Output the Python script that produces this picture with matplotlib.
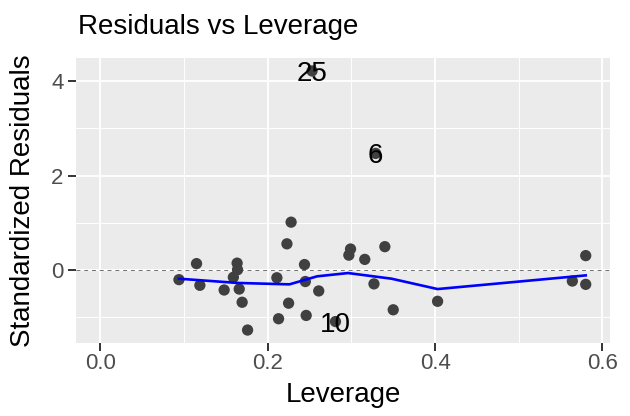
import numpy as np
import matplotlib
matplotlib.use("Agg")
import matplotlib.pyplot as plt

# leverage / standardized residuals of the fitted model (32 observations)
leverage = [0.094, 0.115, 0.119, 0.148, 0.1635, 0.164, 0.159, 0.166,
            0.1695, 0.176, 0.211, 0.228, 0.223, 0.225, 0.213, 0.244,
            0.245, 0.246, 0.261, 0.281, 0.299, 0.297, 0.316, 0.340,
            0.327, 0.350, 0.253, 0.329, 0.403, 0.564, 0.580, 0.580]
std_resid = [-0.21, 0.13, -0.33, -0.43, 0.14, 0.00, -0.16, -0.41,
             -0.69, -1.28, -0.17, 1.01, 0.55, -0.71, -1.04, 0.11,
             -0.25, -0.97, -0.45, -1.10, 0.44, 0.31, 0.22, 0.49,
             -0.30, -0.85, 4.22, 2.47, -0.67, -0.24, 0.30, -0.31]

# observations flagged with their row number
label_names = ["25", "6", "10"]
label_lev = [0.253, 0.329, 0.281]
label_res = [4.22, 2.47, -1.10]

# loess smooth through the points
smooth_lev = [0.094, 0.164, 0.226, 0.259, 0.296, 0.348, 0.403, 0.580]
smooth_res = [-0.19, -0.28, -0.31, -0.14, -0.07, -0.19, -0.41, -0.12]

x_major = [0.0, 0.2, 0.4, 0.6]
x_minor = [0.1, 0.3, 0.5]
y_major = [0, 2, 4]
y_minor = [-1, 1, 3]

plt.rcParams['font.family'] = ['Liberation Sans', 'DejaVu Sans']

fig = plt.figure(figsize=(6.3, 4.16), dpi=100)
ax = fig.add_axes([76 / 630, 1 - 343 / 416, 534 / 630, 285 / 416])
ax.set_facecolor('#EBEBEB')
for s in ax.spines.values():
    s.set_visible(False)

# limits with 5% expansion, x anchored at zero
x_lo, x_hi = 0.0, max(leverage)
y_lo, y_hi = min(std_resid), max(std_resid)
xp = 0.05 * (x_hi - x_lo)
yp = 0.05 * (y_hi - y_lo)
ax.set_xlim(x_lo - xp, x_hi + xp)
ax.set_ylim(y_lo - yp, y_hi + yp)

ax.set_xticks(x_major)
ax.set_xticks(x_minor, minor=True)
ax.set_yticks(y_major)
ax.set_yticks(y_minor, minor=True)
ax.set_xticklabels(["0.0", "0.2", "0.4", "0.6"])
ax.set_yticklabels(["0", "2", "4"])

ax.grid(which='major', color='white', linewidth=1.3)
ax.grid(which='minor', color='white', linewidth=0.7)
ax.set_axisbelow(True)

ax.tick_params(which='major', length=5.5, width=1.4, color='#333333',
               labelsize=16, labelcolor='#4D4D4D')
ax.tick_params(axis='x', which='major', pad=2)
ax.tick_params(axis='y', which='major', pad=3.5)
ax.tick_params(which='minor', length=0)

ax.axhline(0, color='#707070', linewidth=0.7, linestyle=(0, (4, 4)), zorder=2)

ax.scatter(leverage, std_resid, s=66, color='#404040', edgecolors='none', zorder=3)
ax.plot(smooth_lev, smooth_res, color='blue', linewidth=1.9, zorder=4)

for name, lx, ly in zip(label_names, label_lev, label_res):
    ax.text(lx, ly, name, fontsize=20, color='black', ha='center',
            va='center_baseline', zorder=5)

fig.text(78 / 630, 1 - 34 / 416, "Residuals vs Leverage", fontsize=20,
         ha='left', va='baseline')
fig.text(343 / 630, 1 - 401.5 / 416, "Leverage", fontsize=20,
         ha='center', va='baseline')
fig.text(23 / 630, 1 - 200.5 / 416, "Standardized Residuals", fontsize=20,
         ha='center', va='center', rotation=90)

fig.savefig("out.png", dpi=100)
